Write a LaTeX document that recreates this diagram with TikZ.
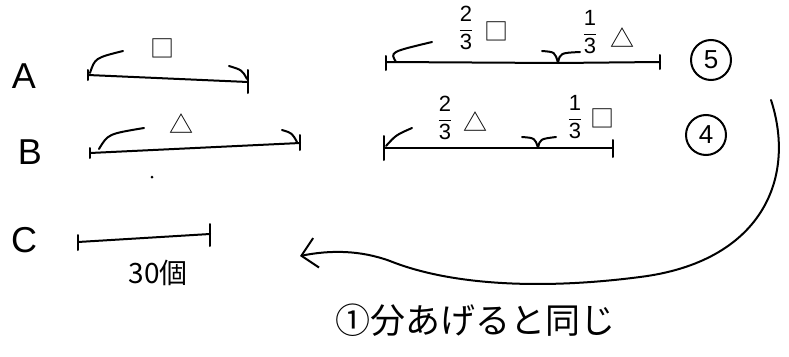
\documentclass[tikz,border=0pt]{standalone}
\usepackage{amsmath}
\usepackage{fontspec}
\setmainfont{Liberation Sans}
\newfontfamily\jp{Noto Sans CJK JP}
\usetikzlibrary{arrows.meta,calc}
\newcommand\hfrac[2]{$\genfrac{}{}{1pt}{0}{\textrm{#1}}{\textrm{#2}}$}
\begin{document}
\begin{tikzpicture}[x=1pt,y=-1pt,
  pen/.style={line width=2pt,line cap=round,line join=round},
  lbl/.style={font=\fontsize{36}{36}\selectfont,inner sep=0pt},
  sym/.style={font=\jp\fontsize{24}{24}\selectfont,inner sep=0pt},
  fr/.style={font=\fontsize{22}{22}\selectfont,inner sep=0pt},
  circ/.style={circle,draw,line width=2pt,minimum size=40pt,inner sep=0pt,font=\fontsize{26}{26}\selectfont}]
\useasboundingbox (0,0) rectangle (789,356);
% letters
\node[lbl] (la) at (24,76) {A};
\node[lbl] (lb) at (30,152) {B};
\node[lbl] (lc) at (24,240) {C};
% A segment
\coordinate (a1) at (88,75); \coordinate (a2) at (248,82);
\draw[pen] (a1) -- (a2);
\draw[pen] ($(a1)+(0,-5)$) -- ($(a1)+(0,5)$);
\draw[pen] ($(a2)+(0,-12)$) -- ($(a2)+(0,11)$);
\draw[pen] (90,73) .. controls (95,58) .. (123,51);
\draw[pen] (229,66) .. controls (242,70) .. (247,79);
\node[sym] (sa) at (162,48) {□};
% B segment
\coordinate (b1) at (90,153); \coordinate (b2) at (300,143);
\draw[pen] (b1) -- (b2);
\draw[pen] ($(b1)+(0,-5)$) -- ($(b1)+(0,5)$);
\draw[pen] ($(b2)+(0,-8)$) -- ($(b2)+(0,7)$);
\draw[pen] (99,149) .. controls (108,134) .. (144,128);
\draw[pen] (282,130) .. controls (292,133) .. (297,142);
\node[sym] (sb) at (181,124) {△};
\fill (152,177) circle (1.5pt);
% C segment
\coordinate (c1) at (78,242); \coordinate (c2) at (210,234);
\draw[pen] (c1) -- (c2);
\draw[pen] ($(c1)+(0,-7)$) -- ($(c1)+(0,8)$);
\draw[pen] ($(c2)+(0,-10)$) -- ($(c2)+(0,12)$);
\node[font=\jp\fontsize{28}{28}\selectfont,inner sep=0pt] (n30) at (158,273) {30個};
% top-right segment 1
\coordinate (t1) at (386,62); \coordinate (tm) at (558,63); \coordinate (t2) at (660,62);
\draw[pen] (t1) -- (tm) -- (t2);
\draw[pen] ($(t1)+(0,-6)$) -- ($(t1)+(0,8)$);
\draw[pen] ($(t2)+(0,-7)$) -- ($(t2)+(0,7)$);
\draw[pen] (396,62) .. controls (390,52) .. (432,42);
\draw[pen] (542,51) .. controls (555,52) .. (tm);
\draw[pen] (tm) .. controls (560,53) .. (580,52);
\node[fr] (f1) at (466,28) {\hfrac{2}{3}};
\node[sym] (s1) at (496,31) {□};
\node[fr] (f2) at (590,32) {\hfrac{1}{3}};
\node[sym] (s2) at (622,38) {△};
% top-right segment 2
\coordinate (u1) at (384,148); \coordinate (um) at (538,148); \coordinate (u2) at (613,148);
\draw[pen] (u1) -- (um) -- (u2);
\draw[pen] ($(u1)+(0,-12)$) -- ($(u1)+(0,12)$);
\draw[pen] ($(u2)+(0,-8)$) -- ($(u2)+(0,9)$);
\draw[pen] (386,146) .. controls (396,135) .. (412,128);
\draw[pen] (522,137) .. controls (535,138) .. (um);
\draw[pen] (um) .. controls (540,139) .. (556,137);
\node[fr] (f3) at (445,118) {\hfrac{2}{3}};
\node[sym] (s3) at (475,122) {△};
\node[fr] (f4) at (575,117) {\hfrac{1}{3}};
\node[sym] (s4) at (602,118) {□};
% circled numbers
\node[circ] (c5) at (711,60) {5};
\node[circ] (c4) at (706,135) {4};
% big arrow
\coordinate (arS) at (771,100);
\coordinate (arE) at (300,256);
\draw[pen,-{Straight Barb[length=15pt,width=30pt,line width=2pt]}] (arS) .. controls (797,180) and (760,262) .. (640,277)
  .. controls (540,290) and (450,285) .. (390,261)
  .. controls (360,250) and (330,250) .. (arE);
\node[font=\jp\fontsize{35}{35}\selectfont,inner sep=0pt,anchor=west] (txt) at (335,320) {①分あげると同じ};
\end{tikzpicture}
\end{document}
